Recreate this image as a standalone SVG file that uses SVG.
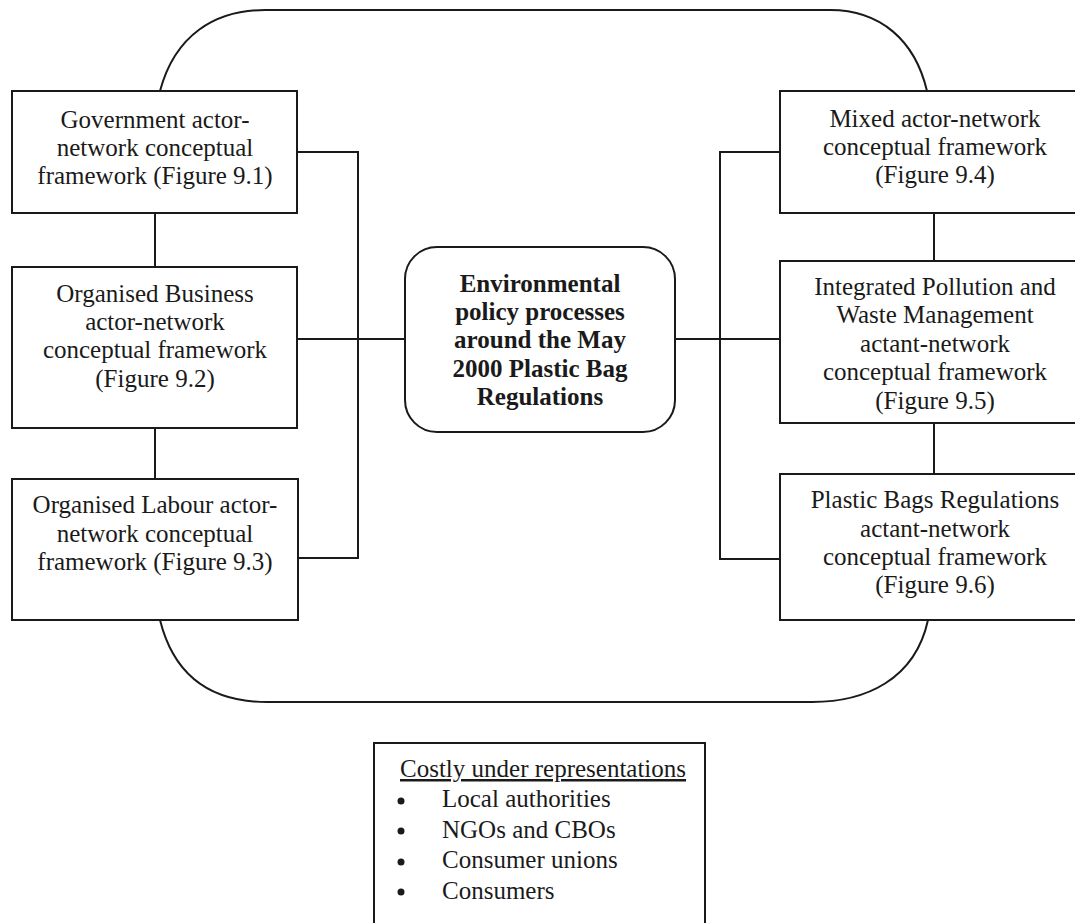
<svg xmlns="http://www.w3.org/2000/svg" width="1075" height="923" viewBox="0 0 1075 923">
<style>
.box{fill:#fff;stroke:#1a1a1a;stroke-width:2}
.ln{fill:none;stroke:#1a1a1a;stroke-width:2}
.t{font-family:"Liberation Serif","Times New Roman",serif;font-size:25px;fill:#1a1a1a;text-anchor:middle}
.b{font-weight:bold}
.l{font-family:"Liberation Serif","Times New Roman",serif;font-size:25px;fill:#1a1a1a}
</style>
<rect width="1075" height="923" fill="#fff"/>
<g id="outline">
<path class="ln" d="M160,91 C175,35 215,10 265,10 L830,10 C880,10 915,40 927,91"/>
<path class="ln" d="M160,620 C175,680 215,702 267,702 L812,702 C865,702 915,680 928,620"/>
</g>
<g id="connectors">
<path class="ln" d="M155,213 V267 M155,428 V479"/>
<path class="ln" d="M297,152 H358 V558 H297 M297,339 H405"/>
<path class="ln" d="M934,213 V261 M934,423 V474"/>
<path class="ln" d="M780,152 H720 V559 H780 M675,339 H780"/>
</g>
<g id="n1">
<rect class="box" x="12" y="91" width="285" height="122"/>
<text class="t" x="155" y="128">Government actor-</text>
<text class="t" x="155" y="156">network conceptual</text>
<text class="t" x="155" y="184">framework (Figure 9.1)</text>
</g>
<g id="n2">
<rect class="box" x="12" y="267" width="285" height="161"/>
<text class="t" x="155" y="302">Organised Business</text>
<text class="t" x="155" y="330">actor-network</text>
<text class="t" x="155" y="358">conceptual framework</text>
<text class="t" x="155" y="387">(Figure 9.2)</text>
</g>
<g id="n3">
<rect class="box" x="12" y="479" width="286" height="141"/>
<text class="t" x="155" y="513">Organised Labour actor-</text>
<text class="t" x="155" y="542">network conceptual</text>
<text class="t" x="155" y="570">framework (Figure 9.3)</text>
</g>
<g id="center">
<rect class="box" x="405" y="247" width="270" height="185" rx="32"/>
<text class="t b" x="540" y="292">Environmental</text>
<text class="t b" x="540" y="320">policy processes</text>
<text class="t b" x="540" y="348">around the May</text>
<text class="t b" x="540" y="377">2000 Plastic Bag</text>
<text class="t b" x="540" y="405">Regulations</text>
</g>
<g id="n4">
<rect class="box" x="780" y="91" width="305" height="122"/>
<text class="t" x="935" y="127">Mixed actor-network</text>
<text class="t" x="935" y="155">conceptual framework</text>
<text class="t" x="935" y="183">(Figure 9.4)</text>
</g>
<g id="n5">
<rect class="box" x="780" y="261" width="305" height="162"/>
<text class="t" x="935" y="295">Integrated Pollution and</text>
<text class="t" x="935" y="323">Waste Management</text>
<text class="t" x="935" y="352">actant-network</text>
<text class="t" x="935" y="380">conceptual framework</text>
<text class="t" x="935" y="409">(Figure 9.5)</text>
</g>
<g id="n6">
<rect class="box" x="780" y="474" width="305" height="146"/>
<text class="t" x="935" y="508">Plastic Bags Regulations</text>
<text class="t" x="935" y="537">actant-network</text>
<text class="t" x="935" y="565">conceptual framework</text>
<text class="t" x="935" y="593">(Figure 9.6)</text>
</g>
<g id="legend">
<rect class="box" x="374" y="743" width="331" height="200"/>
<text class="l" x="400" y="777" text-decoration="underline">Costly under representations</text>
<circle cx="401" cy="801" r="3.5" fill="#1a1a1a"/>
<circle cx="401" cy="831" r="3.5" fill="#1a1a1a"/>
<circle cx="401" cy="862" r="3.5" fill="#1a1a1a"/>
<circle cx="401" cy="892" r="3.5" fill="#1a1a1a"/>
<text class="l" x="442" y="807">Local authorities</text>
<text class="l" x="442" y="838">NGOs and CBOs</text>
<text class="l" x="442" y="868">Consumer unions</text>
<text class="l" x="442" y="899">Consumers</text>
</g>
</svg>
